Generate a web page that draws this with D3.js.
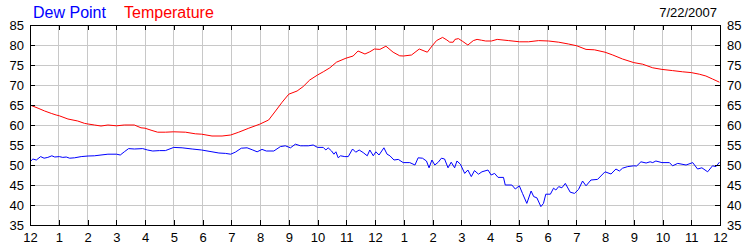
<!DOCTYPE html>
<html>
<head>
<meta charset="utf-8">
<script src="https://cdn.jsdelivr.net/npm/d3@7"></script>
<style>
  html, body { margin: 0; padding: 0; background: #fff; }
  svg { display: block; font-family: "Liberation Sans", Arial, sans-serif; }
</style>
</head>
<body>
<svg id="chart" width="750" height="250"></svg>
<script>
// ---- data (hours since midnight, degrees F) ----
const xTickLabels = ["12","1","2","3","4","5","6","7","8","9","10","11","12","1","2","3","4","5","6","7","8","9","10","11","12"];
const yTickValues = [35,40,45,50,55,60,65,70,75,80,85];
const chartDate = "7/22/2007";

const tempHours = [0.00,0.28,0.51,0.74,0.91,1.02,1.32,1.66,1.90,2.02,2.24,2.47,2.71,3.01,3.28,3.63,3.86,4.00,4.21,4.44,
  4.71,5.00,5.41,5.75,5.97,6.33,6.68,6.98,7.26,7.61,7.99,8.30,8.54,8.77,9.00,9.29,9.50,9.73,
  10.00,10.20,10.43,10.66,10.99,11.24,11.41,11.65,11.82,11.98,12.17,12.38,12.63,12.86,12.99,13.27,13.54,13.82,13.99,
  14.14,14.35,14.50,14.60,14.72,14.78,14.90,15.05,15.23,15.42,15.55,15.70,15.85,16.05,16.25,16.65,17.03,17.34,17.69,
  18.04,18.39,18.73,19.02,19.34,19.63,20.00,20.27,20.61,21.00,21.31,21.66,21.98,22.35,22.70,23.00,23.28,23.51,23.74,23.98];
const tempValues = [65.0,64.2,63.5,62.9,62.5,62.3,61.5,61.0,60.4,60.25,60.0,59.75,60.0,59.8,60.0,60.0,59.3,59.2,58.7,58.2,
  58.2,58.3,58.2,57.8,57.7,57.25,57.25,57.5,58.2,59.2,60.2,61.25,63.5,65.7,67.7,68.5,69.6,71.25,
  72.5,73.3,74.3,75.7,76.7,77.25,78.5,77.75,78.3,79.0,78.9,79.7,78.2,77.3,77.25,77.5,79.0,78.2,79.8,
  81.1,81.9,81.25,80.7,80.7,81.4,81.6,80.9,80.0,81.1,81.4,81.2,81.0,81.0,81.4,81.1,80.8,80.8,81.1,
  81.0,80.7,80.25,79.8,78.9,78.8,78.2,77.5,76.5,75.6,75.2,74.3,73.9,73.6,73.3,73.1,72.7,72.25,71.5,70.7];

const dewHours = [0.00,0.10,0.22,0.37,0.49,0.62,0.76,0.86,1.02,1.14,1.26,1.38,1.55,1.78,2.02,2.24,2.47,2.71,3.01,3.14,3.28,3.43,3.63,3.92,4.09,4.27,4.50,
  4.71,5.00,5.29,5.64,5.97,6.33,6.57,6.80,6.98,7.14,7.35,7.55,7.75,7.90,8.07,8.22,8.48,8.71,8.88,9.06,9.23,9.41,
  9.50,9.68,9.85,10.00,10.20,10.29,10.37,10.49,10.57,10.64,10.72,10.80,10.95,11.07,11.22,11.33,11.45,11.59,11.73,11.82,11.94,
  12.03,12.14,12.31,12.42,12.52,12.66,12.81,12.98,13.21,13.39,13.50,13.65,13.79,13.88,13.98,14.08,14.20,14.31,
  14.42,14.54,14.65,14.77,14.85,14.97,15.12,15.23,15.35,15.46,15.60,15.72,15.93,16.04,16.16,16.28,16.47,16.53,16.76,16.88,
  17.02,17.13,17.28,17.43,17.52,17.63,17.77,17.86,17.94,18.10,18.21,18.29,18.39,18.50,18.62,18.79,18.94,19.08,
  19.22,19.34,19.51,19.74,20.00,20.21,20.38,20.50,20.61,20.79,21.00,21.10,21.25,21.43,21.57,21.66,21.77,21.98,
  22.24,22.35,22.53,22.82,23.05,23.22,23.37,23.57,23.74,23.86,23.98];
const dewValues = [50.8,51.5,51.25,52.1,51.7,51.9,52.3,52.0,52.1,51.9,52.0,51.7,51.8,52.1,52.25,52.3,52.5,52.7,52.7,52.5,53.3,54.1,54.0,54.1,53.75,53.5,53.6,
  53.6,54.4,54.3,54.0,53.75,53.3,53.0,52.9,52.7,53.2,54.2,54.3,53.75,53.3,53.9,53.5,53.5,54.6,54.8,54.3,55.2,54.8,
  54.8,54.8,55.0,54.4,54.4,53.75,54.3,53.5,52.7,53.3,51.8,52.3,52.1,52.1,54.0,53.2,53.75,53.1,52.3,53.75,52.3,
  53.3,52.5,54.3,52.7,52.3,51.25,51.4,50.6,50.6,50.0,51.8,51.7,51.0,49.3,51.25,50.0,50.7,51.7,
  51.5,49.3,50.7,49.3,51.0,50.2,47.9,48.75,47.1,48.6,47.7,48.3,48.75,47.5,47.9,46.9,46.9,45.0,45.0,44.0,
  44.8,42.9,40.4,43.5,42.1,41.8,39.6,40.4,42.7,42.7,44.2,43.75,44.6,44.3,45.4,43.2,42.9,43.9,
  46.0,44.8,46.25,46.4,48.3,47.75,49.0,48.5,49.2,49.6,49.8,49.75,50.8,50.5,50.8,50.6,51.0,50.6,
  50.6,49.8,50.4,50.0,50.6,49.0,49.3,48.3,49.8,49.6,50.7];

// ---- layout ----
const L = 30, R = 720, T = 25, B = 225;
const svg = d3.select("#chart");
const x = d3.scaleLinear().domain([0, 24]).range([L, R]);
const y = d3.scaleLinear().domain([35, 85]).range([B, T]);
const hourTicks = d3.range(0, 25);

// grid
const grid = svg.append("g").attr("stroke", "#c8c8c8").attr("stroke-width", 1).attr("shape-rendering", "crispEdges");
grid.selectAll("line.v").data(hourTicks.slice(1, -1)).join("line")
  .attr("x1", d => x(d)).attr("x2", d => x(d)).attr("y1", T).attr("y2", B);
grid.selectAll("line.h").data(yTickValues.slice(1, -1)).join("line")
  .attr("x1", L).attr("x2", R).attr("y1", d => y(d)).attr("y2", d => y(d));

// series
const line = d3.line().x(d => x(d[0])).y(d => y(d[1]));
svg.append("path").datum(dewHours.map((h, i) => [h, dewValues[i]]))
  .attr("fill", "none").attr("stroke", "#0000ff").attr("stroke-width", 1).attr("d", line);
svg.append("path").datum(tempHours.map((h, i) => [h, tempValues[i]]))
  .attr("fill", "none").attr("stroke", "#ff0000").attr("stroke-width", 1).attr("d", line);

// axes
function style(g) {
  g.attr("font-family", null).attr("font-size", null);
  g.select(".domain").remove();
  g.selectAll(".tick line").attr("stroke", "#000").attr("shape-rendering", "crispEdges");
  g.selectAll(".tick text").attr("fill", "#000").style("font-size", "13px");
}
const xFmt = d => xTickLabels[d];
svg.append("g").attr("transform", `translate(0,${B})`)
  .call(d3.axisBottom(x).tickValues(hourTicks).tickFormat(xFmt).tickSizeInner(-5).tickSizeOuter(0).tickPadding(8))
  .call(style);
svg.append("g").attr("transform", `translate(0,${T})`)
  .call(d3.axisTop(x).tickValues(hourTicks).tickFormat("").tickSizeInner(-5).tickSizeOuter(0))
  .call(style);
svg.append("g").attr("transform", `translate(${L},0)`)
  .call(d3.axisLeft(y).tickValues(yTickValues).tickSizeInner(-5).tickSizeOuter(0).tickPadding(6))
  .call(style);
svg.append("g").attr("transform", `translate(${R},0)`)
  .call(d3.axisRight(y).tickValues(yTickValues).tickSizeInner(-5).tickSizeOuter(0).tickPadding(7))
  .call(style);

// frame
svg.append("rect").attr("x", L + 0.5).attr("y", T + 0.5).attr("width", R - L).attr("height", B - T)
  .attr("fill", "none").attr("stroke", "#000").attr("stroke-width", 1);

// legend / title
svg.append("text").attr("x", 33).attr("y", 18).attr("fill", "#0000ff").style("font-size", "16px").text("Dew Point");
svg.append("text").attr("x", 124).attr("y", 18).attr("fill", "#ff0000").style("font-size", "16px").text("Temperature");
svg.append("text").attr("x", 717).attr("y", 17).attr("text-anchor", "end").attr("fill", "#000").style("font-size", "13px").text(chartDate);
</script>
</body>
</html>
